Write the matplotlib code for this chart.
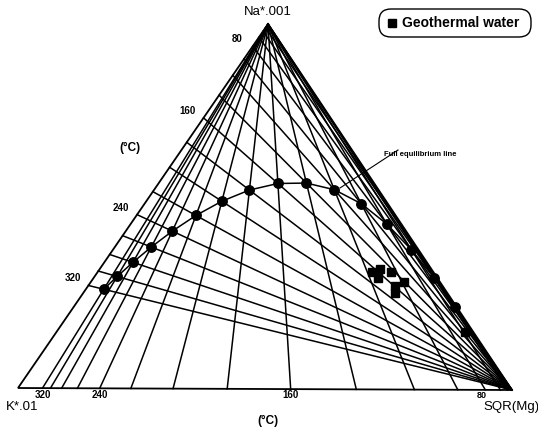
import numpy as np
import matplotlib
matplotlib.use("Agg")
import matplotlib.pyplot as plt
from matplotlib.patches import FancyBboxPatch

plt.rcParams['font.family'] = ['Liberation Sans', 'DejaVu Sans']

# Isotherms (deg C) drawn for the Na-K and K-Mg geothermometers
isotherms = [20, 40, 60, 80, 100, 120, 140, 160, 180, 200, 220, 240, 260, 280, 300, 320]
# Temperatures marked on the full equilibrium curve
full_eq_temps = [20, 40, 60, 80, 100, 120, 140, 160, 180, 200, 220, 240, 260, 280, 300, 320]
# Labelled isotherms on the Na-K side and on the K-Mg base
nak_labels = [80, 160, 240, 320]
kmg_labels = [320, 240, 160, 80]

# Geothermal water samples, relative Na/1000, K/100 and sqrt(Mg)
sample_na = [0.322, 0.331, 0.306, 0.322, 0.295, 0.284, 0.265, 0.158]
sample_k = [0.124, 0.104, 0.120, 0.086, 0.073, 0.097, 0.106, 0.017]
sample_mg = [0.554, 0.566, 0.574, 0.592, 0.632, 0.619, 0.629, 0.825]

W, H = 538, 433
fig = plt.figure(figsize=(W / 100, H / 100), dpi=100)
ax = fig.add_axes([0, 0, 1, 1])
ax.set_xlim(0, W)
ax.set_ylim(H, 0)
ax.axis('off')

# triangle corners in figure pixels
P_NA = np.array([268.0, 24.0])
P_K = np.array([18.0, 388.0])
P_MG = np.array([512.0, 390.0])


def tern(na, k, mg):
    s = na + k + mg
    return (na * P_NA + k * P_K + mg * P_MG) / s


def na_k_ratio(t):
    # Giggenbach (1988) Na-K geothermometer
    return 10 ** (1390.0 / (t + 273.15) - 1.75)


def k2_mg_ratio(t):
    # Giggenbach (1988) K-Mg geothermometer
    return 10 ** (14.0 - 4410.0 / (t + 273.15))


lw = 1.1
col = 'black'

# Na-K isotherms: rays from the Mg corner to the Na-K side
for t in isotherms:
    end = tern(na_k_ratio(t) / 1000.0, 1 / 100.0, 0.0)
    ax.plot([P_MG[0], end[0]], [P_MG[1], end[1]], color=col, lw=lw)

# K-Mg isotherms: rays from the Na corner to the K-Mg base
for t in isotherms:
    end = tern(0.0, np.sqrt(k2_mg_ratio(t)) / 100.0, 1.0)
    ax.plot([P_NA[0], end[0]], [P_NA[1], end[1]], color=col, lw=lw)

# triangle outline
tri = np.array([P_NA, P_K, P_MG, P_NA])
ax.plot(tri[:, 0], tri[:, 1], color=col, lw=1.3, solid_joinstyle='miter')

# full equilibrium curve
eq = np.array([tern(na_k_ratio(t) / 1000.0, 1 / 100.0,
                    1.0 / np.sqrt(k2_mg_ratio(t))) for t in full_eq_temps])
ax.plot(eq[:, 0], eq[:, 1], color=col, lw=lw, marker='o', ms=6.8,
        markerfacecolor='black', markeredgecolor='black')

# samples
pts = np.array([tern(a, b, c) for a, b, c in zip(sample_na, sample_k, sample_mg)])
ax.plot(pts[:, 0], pts[:, 1], linestyle='none', marker='s', ms=6,
        color='black')

# isotherm labels
for t in nak_labels:
    end = tern(na_k_ratio(t) / 1000.0, 1 / 100.0, 0.0)
    ax.text(end[0] - 16, end[1] - 7, str(t), fontsize=7, fontweight='bold',
            ha='center', va='center')
for t in kmg_labels:
    end = tern(0.0, np.sqrt(k2_mg_ratio(t)) / 100.0, 1.0)
    x = end[0] - 4 if t == 80 else end[0]
    ax.text(x, 395, str(t), fontsize=6.5 if t == 80 else 7, fontweight='bold',
            ha='center', va='center')

# corner and unit labels
ax.text(268, 12, 'Na*.001', fontsize=9.5, ha='center', va='center')
ax.text(22, 407, 'K*.01', fontsize=9.5, ha='center', va='center')
ax.text(511, 407, 'SQR(Mg)', fontsize=9.5, ha='center', va='center')
ax.text(130, 148, '(\u00b0C)', fontsize=8.5, fontweight='bold', ha='center', va='center')
ax.text(268, 421, '(\u00b0C)', fontsize=8.5, fontweight='bold', ha='center', va='center')

# curve annotation
ax.text(384, 155, 'Full equilibrium line', fontsize=5.5, fontweight='bold',
        ha='left', va='center')
ax.plot([398, 340], [150, 188], color=col, lw=0.8)

# legend
box = FancyBboxPatch((379, 9), 152, 28, boxstyle='round,pad=0,rounding_size=12',
                     facecolor='white', edgecolor='black', lw=1.0)
ax.add_patch(box)
ax.plot([392], [23], marker='s', ms=6, color='black', linestyle='none')
ax.text(402, 23, 'Geothermal water', fontsize=10, fontweight='bold',
        ha='left', va='center')

fig.savefig('out.png', dpi=100, facecolor='white')
